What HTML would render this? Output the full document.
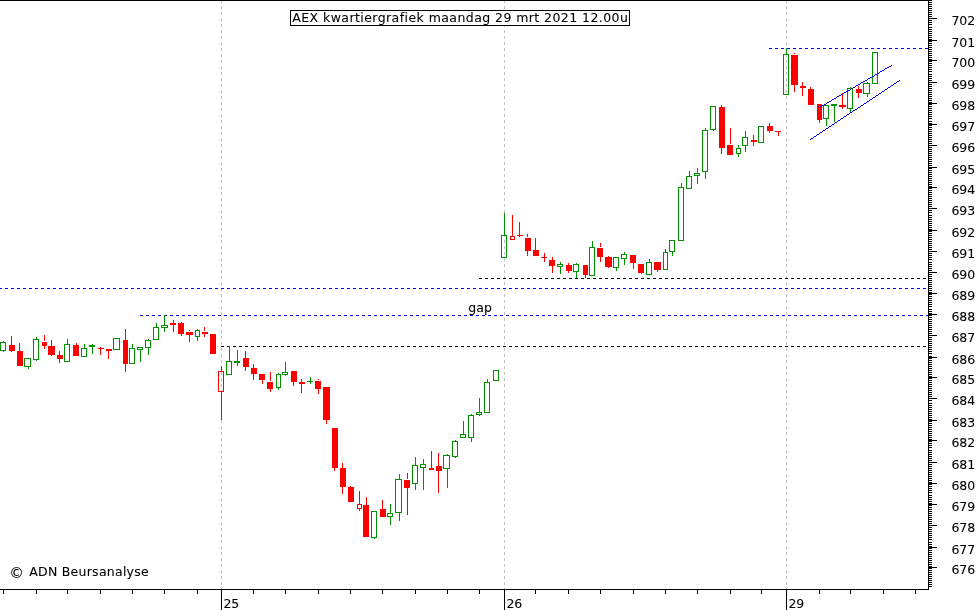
<!DOCTYPE html>
<html><head><meta charset="utf-8"><title>AEX kwartiergrafiek</title>
<style>
html,body{margin:0;padding:0;background:#fff;overflow:hidden}
svg{display:block}
.t{font-family:'DejaVu Sans','Liberation Sans',sans-serif;font-size:12.5px;fill:#000;letter-spacing:0.4px;stroke:#000;stroke-width:0.08px}
.a{letter-spacing:0}
.g{letter-spacing:0}
</style></head><body>
<svg width="979" height="610" viewBox="0 0 979 610" shape-rendering="crispEdges">
<rect x="0" y="0" width="979" height="610" fill="#fff"/>
<path d="M221.5 0V589" stroke="#c0c0c0" stroke-width="1" stroke-dasharray="3 3" fill="none"/>
<path d="M504.5 0V589" stroke="#c0c0c0" stroke-width="1" stroke-dasharray="3 3" fill="none"/>
<path d="M786.5 0V589" stroke="#c0c0c0" stroke-width="1" stroke-dasharray="3 3" fill="none"/>
<path d="M769 48.5H928" stroke="#0000ff" stroke-width="1" stroke-dasharray="3 3" stroke-dashoffset="0" fill="none"/>
<path d="M479 278.5H928" stroke="#000000" stroke-width="1" stroke-dasharray="3 3" stroke-dashoffset="0" fill="none"/>
<path d="M-1 288.5H928" stroke="#0000ff" stroke-width="1" stroke-dasharray="3 3" stroke-dashoffset="0" fill="none"/>
<path d="M140 315.5H928" stroke="#0000ff" stroke-width="1" stroke-dasharray="3 3" stroke-dashoffset="0" fill="none"/>
<path d="M221 346.5H928" stroke="#000000" stroke-width="1" stroke-dasharray="3 3" stroke-dashoffset="0" fill="none"/>
<rect x="3" y="341" width="1" height="1" fill="#009000"/>
<rect x="3" y="351" width="1" height="1" fill="#009000"/>
<rect x="0.5" y="342.5" width="5" height="8" fill="none" stroke="#009000" stroke-width="1"/>
<rect x="11" y="336" width="1" height="16" fill="#ff0000"/>
<rect x="9" y="345" width="6" height="6" fill="#ff0000"/>
<rect x="19" y="343" width="1" height="23" fill="#ff0000"/>
<rect x="17" y="351" width="6" height="15" fill="#ff0000"/>
<rect x="28" y="367" width="1" height="2" fill="#009000"/>
<rect x="24.5" y="358.5" width="6" height="8" fill="none" stroke="#009000" stroke-width="1"/>
<rect x="36" y="337" width="1" height="2" fill="#009000"/>
<rect x="36" y="360" width="1" height="1" fill="#009000"/>
<rect x="33.5" y="339.5" width="5" height="20" fill="none" stroke="#009000" stroke-width="1"/>
<rect x="44" y="335" width="1" height="6" fill="#ff0000"/>
<rect x="44" y="342" width="1" height="7" fill="#ff0000"/>
<rect x="42" y="342" width="5" height="4" fill="#ff0000"/>
<rect x="51" y="340" width="1" height="16" fill="#ff0000"/>
<rect x="48" y="346" width="7" height="9" fill="#ff0000"/>
<rect x="59" y="351" width="1" height="12" fill="#ff0000"/>
<rect x="57" y="355" width="6" height="4" fill="#ff0000"/>
<rect x="67" y="339" width="1" height="5" fill="#009000"/>
<rect x="64.5" y="344.5" width="5" height="17" fill="none" stroke="#009000" stroke-width="1"/>
<rect x="76" y="343" width="1" height="13" fill="#ff0000"/>
<rect x="73" y="345" width="6" height="11" fill="#ff0000"/>
<rect x="84" y="344" width="1" height="4" fill="#009000"/>
<rect x="81.5" y="348.5" width="5" height="8" fill="none" stroke="#009000" stroke-width="1"/>
<rect x="92" y="344" width="1" height="10" fill="#009000"/>
<rect x="89" y="345" width="6" height="2" fill="#009000"/>
<rect x="100" y="347" width="1" height="8" fill="#ff0000"/>
<rect x="98" y="348" width="6" height="1" fill="#ff0000"/>
<rect x="108" y="349" width="1" height="10" fill="#ff0000"/>
<rect x="106" y="349" width="6" height="2" fill="#ff0000"/>
<rect x="113.5" y="338.5" width="6" height="11" fill="none" stroke="#009000" stroke-width="1"/>
<rect x="125" y="329" width="1" height="43" fill="#ff0000"/>
<rect x="123" y="340" width="5" height="24" fill="#ff0000"/>
<rect x="132" y="344" width="1" height="4" fill="#009000"/>
<rect x="129.5" y="348.5" width="5" height="15" fill="none" stroke="#009000" stroke-width="1"/>
<rect x="140" y="350" width="1" height="12" fill="#009000"/>
<rect x="137.5" y="347.5" width="5" height="2" fill="none" stroke="#009000" stroke-width="1"/>
<rect x="148" y="339" width="1" height="1" fill="#009000"/>
<rect x="148" y="348" width="1" height="7" fill="#009000"/>
<rect x="145.5" y="340.5" width="5" height="7" fill="none" stroke="#009000" stroke-width="1"/>
<rect x="156" y="323" width="1" height="4" fill="#009000"/>
<rect x="153.5" y="327.5" width="5" height="12" fill="none" stroke="#009000" stroke-width="1"/>
<rect x="164" y="315" width="1" height="10" fill="#009000"/>
<rect x="164" y="328" width="1" height="4" fill="#009000"/>
<rect x="161.5" y="325.5" width="6" height="2" fill="none" stroke="#009000" stroke-width="1"/>
<rect x="173" y="320" width="1" height="12" fill="#ff0000"/>
<rect x="170" y="323" width="6" height="2" fill="#ff0000"/>
<rect x="181" y="322" width="1" height="14" fill="#ff0000"/>
<rect x="178" y="323" width="6" height="11" fill="#ff0000"/>
<rect x="189" y="330" width="1" height="1" fill="#ff0000"/>
<rect x="189" y="332" width="1" height="10" fill="#ff0000"/>
<rect x="186" y="332" width="7" height="3" fill="#ff0000"/>
<rect x="197" y="329" width="1" height="1" fill="#009000"/>
<rect x="197" y="337" width="1" height="4" fill="#009000"/>
<rect x="195.5" y="330.5" width="4" height="6" fill="none" stroke="#009000" stroke-width="1"/>
<rect x="204" y="327" width="1" height="4" fill="#ff0000"/>
<rect x="204" y="332" width="1" height="5" fill="#ff0000"/>
<rect x="202" y="332" width="6" height="2" fill="#ff0000"/>
<rect x="213" y="334" width="1" height="20" fill="#ff0000"/>
<rect x="210" y="334" width="6" height="20" fill="#ff0000"/>
<rect x="221" y="366" width="1" height="5" fill="#ff0000"/>
<rect x="221" y="392" width="1" height="28" fill="#ff0000"/>
<rect x="218.5" y="371.5" width="5" height="20" fill="none" stroke="#ff0000" stroke-width="1"/>
<rect x="229" y="346" width="1" height="15" fill="#009000"/>
<rect x="226.5" y="361.5" width="5" height="13" fill="none" stroke="#009000" stroke-width="1"/>
<rect x="237" y="350" width="1" height="16" fill="#009000"/>
<rect x="234" y="361" width="6" height="2" fill="#009000"/>
<rect x="245" y="351" width="1" height="20" fill="#ff0000"/>
<rect x="243" y="358" width="6" height="9" fill="#ff0000"/>
<rect x="253" y="364" width="1" height="16" fill="#ff0000"/>
<rect x="251" y="368" width="6" height="6" fill="#ff0000"/>
<rect x="262" y="374" width="1" height="10" fill="#ff0000"/>
<rect x="259" y="374" width="6" height="6" fill="#ff0000"/>
<rect x="270" y="372" width="1" height="9" fill="#ff0000"/>
<rect x="270" y="382" width="1" height="10" fill="#ff0000"/>
<rect x="267" y="382" width="6" height="7" fill="#ff0000"/>
<rect x="278" y="373" width="1" height="1" fill="#009000"/>
<rect x="278" y="388" width="1" height="2" fill="#009000"/>
<rect x="276.5" y="374.5" width="4" height="13" fill="none" stroke="#009000" stroke-width="1"/>
<rect x="285" y="362" width="1" height="10" fill="#009000"/>
<rect x="285" y="375" width="1" height="1" fill="#009000"/>
<rect x="282.5" y="372.5" width="5" height="2" fill="none" stroke="#009000" stroke-width="1"/>
<rect x="293" y="371" width="1" height="15" fill="#ff0000"/>
<rect x="291" y="371" width="6" height="11" fill="#ff0000"/>
<rect x="301" y="379" width="1" height="14" fill="#ff0000"/>
<rect x="299" y="382" width="6" height="2" fill="#ff0000"/>
<rect x="310" y="377" width="1" height="7" fill="#009000"/>
<rect x="307" y="381" width="6" height="1" fill="#009000"/>
<rect x="318" y="379" width="1" height="1" fill="#ff0000"/>
<rect x="318" y="381" width="1" height="13" fill="#ff0000"/>
<rect x="315" y="381" width="6" height="8" fill="#ff0000"/>
<rect x="326" y="387" width="1" height="37" fill="#ff0000"/>
<rect x="323" y="387" width="7" height="33" fill="#ff0000"/>
<rect x="334" y="428" width="1" height="43" fill="#ff0000"/>
<rect x="332" y="428" width="6" height="40" fill="#ff0000"/>
<rect x="342" y="463" width="1" height="31" fill="#ff0000"/>
<rect x="340" y="468" width="6" height="19" fill="#ff0000"/>
<rect x="350" y="486" width="1" height="16" fill="#ff0000"/>
<rect x="348" y="487" width="6" height="15" fill="#ff0000"/>
<rect x="359" y="491" width="1" height="13" fill="#ff0000"/>
<rect x="359" y="509" width="1" height="2" fill="#ff0000"/>
<rect x="357.5" y="504.5" width="4" height="4" fill="none" stroke="#ff0000" stroke-width="1"/>
<rect x="366" y="497" width="1" height="40" fill="#ff0000"/>
<rect x="363" y="505" width="6" height="32" fill="#ff0000"/>
<rect x="374" y="538" width="1" height="1" fill="#009000"/>
<rect x="371.5" y="511.5" width="5" height="26" fill="none" stroke="#009000" stroke-width="1"/>
<rect x="382" y="500" width="1" height="17" fill="#ff0000"/>
<rect x="380" y="509" width="6" height="8" fill="#ff0000"/>
<rect x="390" y="504" width="1" height="9" fill="#009000"/>
<rect x="390" y="517" width="1" height="8" fill="#009000"/>
<rect x="387.5" y="513.5" width="5" height="3" fill="none" stroke="#009000" stroke-width="1"/>
<rect x="399" y="474" width="1" height="5" fill="#009000"/>
<rect x="399" y="513" width="1" height="8" fill="#009000"/>
<rect x="395.5" y="479.5" width="6" height="33" fill="none" stroke="#009000" stroke-width="1"/>
<rect x="407" y="473" width="1" height="6" fill="#ff0000"/>
<rect x="407" y="480" width="1" height="35" fill="#ff0000"/>
<rect x="404" y="480" width="6" height="8" fill="#ff0000"/>
<rect x="415" y="457" width="1" height="8" fill="#009000"/>
<rect x="415" y="484" width="1" height="6" fill="#009000"/>
<rect x="412.5" y="465.5" width="5" height="18" fill="none" stroke="#009000" stroke-width="1"/>
<rect x="423" y="459" width="1" height="5" fill="#009000"/>
<rect x="423" y="468" width="1" height="22" fill="#009000"/>
<rect x="420.5" y="464.5" width="5" height="3" fill="none" stroke="#009000" stroke-width="1"/>
<rect x="431" y="451" width="1" height="19" fill="#ff0000"/>
<rect x="429" y="468" width="5" height="2" fill="#ff0000"/>
<rect x="438" y="453" width="1" height="40" fill="#ff0000"/>
<rect x="436" y="466" width="6" height="5" fill="#ff0000"/>
<rect x="447" y="454" width="1" height="1" fill="#009000"/>
<rect x="447" y="469" width="1" height="19" fill="#009000"/>
<rect x="443.5" y="455.5" width="6" height="13" fill="none" stroke="#009000" stroke-width="1"/>
<rect x="455" y="440" width="1" height="1" fill="#009000"/>
<rect x="455" y="457" width="1" height="1" fill="#009000"/>
<rect x="452.5" y="441.5" width="5" height="15" fill="none" stroke="#009000" stroke-width="1"/>
<rect x="463" y="421" width="1" height="13" fill="#009000"/>
<rect x="460.5" y="434.5" width="5" height="3" fill="none" stroke="#009000" stroke-width="1"/>
<rect x="471" y="414" width="1" height="1" fill="#009000"/>
<rect x="471" y="438" width="1" height="4" fill="#009000"/>
<rect x="468.5" y="415.5" width="5" height="22" fill="none" stroke="#009000" stroke-width="1"/>
<rect x="479" y="398" width="1" height="14" fill="#009000"/>
<rect x="479" y="415" width="1" height="1" fill="#009000"/>
<rect x="476.5" y="412.5" width="5" height="2" fill="none" stroke="#009000" stroke-width="1"/>
<rect x="487" y="379" width="1" height="3" fill="#009000"/>
<rect x="484.5" y="382.5" width="5" height="30" fill="none" stroke="#009000" stroke-width="1"/>
<rect x="493.5" y="370.5" width="5" height="10" fill="none" stroke="#009000" stroke-width="1"/>
<rect x="504" y="213" width="1" height="22" fill="#009000"/>
<rect x="501.5" y="235.5" width="5" height="22" fill="none" stroke="#009000" stroke-width="1"/>
<rect x="512" y="215" width="1" height="21" fill="#ff0000"/>
<rect x="510.5" y="236.5" width="4" height="3" fill="none" stroke="#ff0000" stroke-width="1"/>
<rect x="519" y="222" width="1" height="15" fill="#ff0000"/>
<rect x="517" y="235" width="6" height="1" fill="#ff0000"/>
<rect x="527" y="234" width="1" height="3" fill="#ff0000"/>
<rect x="527" y="238" width="1" height="18" fill="#ff0000"/>
<rect x="525" y="238" width="6" height="13" fill="#ff0000"/>
<rect x="535" y="238" width="1" height="18" fill="#ff0000"/>
<rect x="533" y="250" width="6" height="6" fill="#ff0000"/>
<rect x="544" y="253" width="1" height="9" fill="#ff0000"/>
<rect x="541" y="257" width="6" height="1" fill="#ff0000"/>
<rect x="552" y="257" width="1" height="16" fill="#ff0000"/>
<rect x="549" y="260" width="6" height="6" fill="#ff0000"/>
<rect x="560" y="262" width="1" height="2" fill="#009000"/>
<rect x="560" y="267" width="1" height="7" fill="#009000"/>
<rect x="557.5" y="264.5" width="5" height="2" fill="none" stroke="#009000" stroke-width="1"/>
<rect x="568" y="263" width="1" height="10" fill="#ff0000"/>
<rect x="566" y="265" width="6" height="6" fill="#ff0000"/>
<rect x="576" y="263" width="1" height="1" fill="#009000"/>
<rect x="576" y="272" width="1" height="6" fill="#009000"/>
<rect x="573.5" y="264.5" width="5" height="7" fill="none" stroke="#009000" stroke-width="1"/>
<rect x="585" y="265" width="1" height="13" fill="#ff0000"/>
<rect x="583" y="265" width="5" height="10" fill="#ff0000"/>
<rect x="592" y="241" width="1" height="6" fill="#009000"/>
<rect x="589.5" y="247.5" width="5" height="28" fill="none" stroke="#009000" stroke-width="1"/>
<rect x="600" y="243" width="1" height="4" fill="#ff0000"/>
<rect x="600" y="248" width="1" height="14" fill="#ff0000"/>
<rect x="597" y="248" width="6" height="9" fill="#ff0000"/>
<rect x="608" y="256" width="1" height="12" fill="#ff0000"/>
<rect x="605" y="257" width="7" height="10" fill="#ff0000"/>
<rect x="616" y="268" width="1" height="3" fill="#009000"/>
<rect x="613.5" y="257.5" width="5" height="10" fill="none" stroke="#009000" stroke-width="1"/>
<rect x="624" y="252" width="1" height="2" fill="#009000"/>
<rect x="624" y="259" width="1" height="6" fill="#009000"/>
<rect x="621.5" y="254.5" width="5" height="4" fill="none" stroke="#009000" stroke-width="1"/>
<rect x="633" y="255" width="1" height="14" fill="#ff0000"/>
<rect x="630" y="255" width="6" height="8" fill="#ff0000"/>
<rect x="641" y="264" width="1" height="10" fill="#ff0000"/>
<rect x="638" y="264" width="6" height="9" fill="#ff0000"/>
<rect x="649" y="259" width="1" height="3" fill="#009000"/>
<rect x="646.5" y="262.5" width="5" height="12" fill="none" stroke="#009000" stroke-width="1"/>
<rect x="657" y="262" width="1" height="10" fill="#ff0000"/>
<rect x="654" y="262" width="7" height="8" fill="#ff0000"/>
<rect x="665" y="249" width="1" height="3" fill="#009000"/>
<rect x="663.5" y="252.5" width="4" height="17" fill="none" stroke="#009000" stroke-width="1"/>
<rect x="672" y="252" width="1" height="4" fill="#009000"/>
<rect x="669.5" y="240.5" width="5" height="11" fill="none" stroke="#009000" stroke-width="1"/>
<rect x="681" y="183" width="1" height="4" fill="#009000"/>
<rect x="678.5" y="187.5" width="5" height="53" fill="none" stroke="#009000" stroke-width="1"/>
<rect x="689" y="171" width="1" height="5" fill="#009000"/>
<rect x="686.5" y="176.5" width="5" height="12" fill="none" stroke="#009000" stroke-width="1"/>
<rect x="697" y="168" width="1" height="5" fill="#009000"/>
<rect x="697" y="176" width="1" height="8" fill="#009000"/>
<rect x="694.5" y="173.5" width="5" height="2" fill="none" stroke="#009000" stroke-width="1"/>
<rect x="705" y="128" width="1" height="2" fill="#009000"/>
<rect x="705" y="172" width="1" height="7" fill="#009000"/>
<rect x="702.5" y="130.5" width="5" height="41" fill="none" stroke="#009000" stroke-width="1"/>
<rect x="713" y="130" width="1" height="1" fill="#009000"/>
<rect x="710.5" y="106.5" width="5" height="23" fill="none" stroke="#009000" stroke-width="1"/>
<rect x="721" y="105" width="1" height="49" fill="#ff0000"/>
<rect x="719" y="107" width="6" height="41" fill="#ff0000"/>
<rect x="730" y="128" width="1" height="16" fill="#ff0000"/>
<rect x="730" y="145" width="1" height="10" fill="#ff0000"/>
<rect x="727" y="145" width="6" height="10" fill="#ff0000"/>
<rect x="738" y="145" width="1" height="3" fill="#009000"/>
<rect x="738" y="154" width="1" height="3" fill="#009000"/>
<rect x="736.5" y="148.5" width="4" height="5" fill="none" stroke="#009000" stroke-width="1"/>
<rect x="745" y="131" width="1" height="6" fill="#009000"/>
<rect x="745" y="146" width="1" height="6" fill="#009000"/>
<rect x="742.5" y="137.5" width="5" height="8" fill="none" stroke="#009000" stroke-width="1"/>
<rect x="753" y="135" width="1" height="11" fill="#ff0000"/>
<rect x="751" y="140" width="6" height="2" fill="#ff0000"/>
<rect x="758.5" y="126.5" width="5" height="16" fill="none" stroke="#009000" stroke-width="1"/>
<rect x="769" y="123" width="1" height="10" fill="#ff0000"/>
<rect x="767" y="126" width="6" height="5" fill="#ff0000"/>
<rect x="778" y="131" width="1" height="5" fill="#ff0000"/>
<rect x="775" y="131" width="6" height="1" fill="#ff0000"/>
<rect x="786" y="48" width="1" height="6" fill="#009000"/>
<rect x="783.5" y="54.5" width="5" height="40" fill="none" stroke="#009000" stroke-width="1"/>
<rect x="794" y="53" width="1" height="1" fill="#ff0000"/>
<rect x="794" y="55" width="1" height="37" fill="#ff0000"/>
<rect x="791" y="55" width="7" height="30" fill="#ff0000"/>
<rect x="802" y="82" width="1" height="14" fill="#ff0000"/>
<rect x="800" y="86" width="6" height="2" fill="#ff0000"/>
<rect x="810" y="87" width="1" height="18" fill="#ff0000"/>
<rect x="808" y="89" width="6" height="16" fill="#ff0000"/>
<rect x="819" y="104" width="1" height="19" fill="#ff0000"/>
<rect x="817" y="104" width="5" height="16" fill="#ff0000"/>
<rect x="826" y="119" width="1" height="7" fill="#009000"/>
<rect x="823.5" y="105.5" width="5" height="13" fill="none" stroke="#009000" stroke-width="1"/>
<rect x="834" y="104" width="1" height="18" fill="#009000"/>
<rect x="831" y="104" width="6" height="2" fill="#009000"/>
<rect x="842" y="93" width="1" height="16" fill="#ff0000"/>
<rect x="839" y="105" width="7" height="2" fill="#ff0000"/>
<rect x="850" y="87" width="1" height="1" fill="#009000"/>
<rect x="850" y="109" width="1" height="3" fill="#009000"/>
<rect x="847.5" y="88.5" width="5" height="20" fill="none" stroke="#009000" stroke-width="1"/>
<rect x="858" y="86" width="1" height="12" fill="#ff0000"/>
<rect x="856" y="89" width="6" height="4" fill="#ff0000"/>
<rect x="867" y="82" width="1" height="1" fill="#009000"/>
<rect x="867" y="94" width="1" height="3" fill="#009000"/>
<rect x="863.5" y="83.5" width="6" height="10" fill="none" stroke="#009000" stroke-width="1"/>
<rect x="872.5" y="52.5" width="5" height="31" fill="none" stroke="#009000" stroke-width="1"/>
<rect x="819" y="107" width="1" height="1" fill="#0000ff"/>
<rect x="820" y="106" width="2" height="1" fill="#0000ff"/>
<rect x="822" y="105" width="2" height="1" fill="#0000ff"/>
<rect x="824" y="104" width="2" height="1" fill="#0000ff"/>
<rect x="826" y="103" width="1" height="1" fill="#0000ff"/>
<rect x="827" y="102" width="2" height="1" fill="#0000ff"/>
<rect x="829" y="101" width="2" height="1" fill="#0000ff"/>
<rect x="831" y="100" width="1" height="1" fill="#0000ff"/>
<rect x="832" y="99" width="2" height="1" fill="#0000ff"/>
<rect x="834" y="98" width="2" height="1" fill="#0000ff"/>
<rect x="836" y="97" width="1" height="1" fill="#0000ff"/>
<rect x="837" y="96" width="2" height="1" fill="#0000ff"/>
<rect x="839" y="95" width="2" height="1" fill="#0000ff"/>
<rect x="841" y="94" width="2" height="1" fill="#0000ff"/>
<rect x="843" y="93" width="1" height="1" fill="#0000ff"/>
<rect x="844" y="92" width="2" height="1" fill="#0000ff"/>
<rect x="846" y="91" width="2" height="1" fill="#0000ff"/>
<rect x="848" y="90" width="2" height="1" fill="#0000ff"/>
<rect x="850" y="89" width="1" height="1" fill="#0000ff"/>
<rect x="851" y="88" width="2" height="1" fill="#0000ff"/>
<rect x="853" y="87" width="2" height="1" fill="#0000ff"/>
<rect x="855" y="86" width="1" height="1" fill="#0000ff"/>
<rect x="856" y="85" width="2" height="1" fill="#0000ff"/>
<rect x="858" y="84" width="2" height="1" fill="#0000ff"/>
<rect x="860" y="83" width="1" height="1" fill="#0000ff"/>
<rect x="861" y="82" width="2" height="1" fill="#0000ff"/>
<rect x="863" y="81" width="2" height="1" fill="#0000ff"/>
<rect x="865" y="80" width="2" height="1" fill="#0000ff"/>
<rect x="867" y="79" width="1" height="1" fill="#0000ff"/>
<rect x="868" y="78" width="2" height="1" fill="#0000ff"/>
<rect x="870" y="77" width="2" height="1" fill="#0000ff"/>
<rect x="872" y="76" width="2" height="1" fill="#0000ff"/>
<rect x="874" y="75" width="1" height="1" fill="#0000ff"/>
<rect x="875" y="74" width="2" height="1" fill="#0000ff"/>
<rect x="877" y="73" width="2" height="1" fill="#0000ff"/>
<rect x="879" y="72" width="1" height="1" fill="#0000ff"/>
<rect x="880" y="71" width="2" height="1" fill="#0000ff"/>
<rect x="882" y="70" width="2" height="1" fill="#0000ff"/>
<rect x="884" y="69" width="1" height="1" fill="#0000ff"/>
<rect x="885" y="68" width="2" height="1" fill="#0000ff"/>
<rect x="887" y="67" width="2" height="1" fill="#0000ff"/>
<rect x="889" y="66" width="2" height="1" fill="#0000ff"/>
<rect x="891" y="65" width="1" height="1" fill="#0000ff"/>
<rect x="810" y="139" width="1" height="1" fill="#0000ff"/>
<rect x="811" y="138" width="2" height="1" fill="#0000ff"/>
<rect x="813" y="137" width="1" height="1" fill="#0000ff"/>
<rect x="814" y="136" width="2" height="1" fill="#0000ff"/>
<rect x="816" y="135" width="1" height="1" fill="#0000ff"/>
<rect x="817" y="134" width="2" height="1" fill="#0000ff"/>
<rect x="819" y="133" width="1" height="1" fill="#0000ff"/>
<rect x="820" y="132" width="2" height="1" fill="#0000ff"/>
<rect x="822" y="131" width="1" height="1" fill="#0000ff"/>
<rect x="823" y="130" width="2" height="1" fill="#0000ff"/>
<rect x="825" y="129" width="1" height="1" fill="#0000ff"/>
<rect x="826" y="128" width="2" height="1" fill="#0000ff"/>
<rect x="828" y="127" width="1" height="1" fill="#0000ff"/>
<rect x="829" y="126" width="2" height="1" fill="#0000ff"/>
<rect x="831" y="125" width="1" height="1" fill="#0000ff"/>
<rect x="832" y="124" width="2" height="1" fill="#0000ff"/>
<rect x="834" y="123" width="1" height="1" fill="#0000ff"/>
<rect x="835" y="122" width="2" height="1" fill="#0000ff"/>
<rect x="837" y="121" width="1" height="1" fill="#0000ff"/>
<rect x="838" y="120" width="2" height="1" fill="#0000ff"/>
<rect x="840" y="119" width="1" height="1" fill="#0000ff"/>
<rect x="841" y="118" width="2" height="1" fill="#0000ff"/>
<rect x="843" y="117" width="1" height="1" fill="#0000ff"/>
<rect x="844" y="116" width="2" height="1" fill="#0000ff"/>
<rect x="846" y="115" width="1" height="1" fill="#0000ff"/>
<rect x="847" y="114" width="2" height="1" fill="#0000ff"/>
<rect x="849" y="113" width="1" height="1" fill="#0000ff"/>
<rect x="850" y="112" width="2" height="1" fill="#0000ff"/>
<rect x="852" y="111" width="1" height="1" fill="#0000ff"/>
<rect x="853" y="110" width="2" height="1" fill="#0000ff"/>
<rect x="855" y="109" width="2" height="1" fill="#0000ff"/>
<rect x="857" y="108" width="1" height="1" fill="#0000ff"/>
<rect x="858" y="107" width="2" height="1" fill="#0000ff"/>
<rect x="860" y="106" width="1" height="1" fill="#0000ff"/>
<rect x="861" y="105" width="2" height="1" fill="#0000ff"/>
<rect x="863" y="104" width="1" height="1" fill="#0000ff"/>
<rect x="864" y="103" width="2" height="1" fill="#0000ff"/>
<rect x="866" y="102" width="1" height="1" fill="#0000ff"/>
<rect x="867" y="101" width="2" height="1" fill="#0000ff"/>
<rect x="869" y="100" width="1" height="1" fill="#0000ff"/>
<rect x="870" y="99" width="2" height="1" fill="#0000ff"/>
<rect x="872" y="98" width="1" height="1" fill="#0000ff"/>
<rect x="873" y="97" width="2" height="1" fill="#0000ff"/>
<rect x="875" y="96" width="1" height="1" fill="#0000ff"/>
<rect x="876" y="95" width="2" height="1" fill="#0000ff"/>
<rect x="878" y="94" width="1" height="1" fill="#0000ff"/>
<rect x="879" y="93" width="2" height="1" fill="#0000ff"/>
<rect x="881" y="92" width="1" height="1" fill="#0000ff"/>
<rect x="882" y="91" width="2" height="1" fill="#0000ff"/>
<rect x="884" y="90" width="1" height="1" fill="#0000ff"/>
<rect x="885" y="89" width="2" height="1" fill="#0000ff"/>
<rect x="887" y="88" width="1" height="1" fill="#0000ff"/>
<rect x="888" y="87" width="2" height="1" fill="#0000ff"/>
<rect x="890" y="86" width="1" height="1" fill="#0000ff"/>
<rect x="891" y="85" width="2" height="1" fill="#0000ff"/>
<rect x="893" y="84" width="1" height="1" fill="#0000ff"/>
<rect x="894" y="83" width="2" height="1" fill="#0000ff"/>
<rect x="896" y="82" width="1" height="1" fill="#0000ff"/>
<rect x="897" y="81" width="2" height="1" fill="#0000ff"/>
<rect x="899" y="80" width="1" height="1" fill="#0000ff"/>
<rect x="0" y="0" width="929" height="1" fill="#000"/>
<rect x="928" y="0" width="1" height="590" fill="#000"/>
<rect x="0" y="589" width="929" height="1" fill="#000"/>
<rect x="929" y="0" width="3" height="1" fill="#000"/>
<rect x="929" y="2" width="3" height="1" fill="#000"/>
<rect x="929" y="4" width="3" height="1" fill="#000"/>
<rect x="929" y="6" width="3" height="1" fill="#000"/>
<rect x="929" y="8" width="3" height="1" fill="#000"/>
<rect x="929" y="10" width="3" height="1" fill="#000"/>
<rect x="929" y="12" width="3" height="1" fill="#000"/>
<rect x="929" y="14" width="3" height="1" fill="#000"/>
<rect x="929" y="16" width="3" height="1" fill="#000"/>
<rect x="929" y="18" width="3" height="1" fill="#000"/>
<rect x="929" y="20" width="3" height="1" fill="#000"/>
<rect x="929" y="22" width="3" height="1" fill="#000"/>
<rect x="929" y="24" width="3" height="1" fill="#000"/>
<rect x="929" y="27" width="3" height="1" fill="#000"/>
<rect x="929" y="29" width="3" height="1" fill="#000"/>
<rect x="929" y="31" width="3" height="1" fill="#000"/>
<rect x="929" y="33" width="3" height="1" fill="#000"/>
<rect x="929" y="35" width="3" height="1" fill="#000"/>
<rect x="929" y="37" width="3" height="1" fill="#000"/>
<rect x="929" y="39" width="3" height="1" fill="#000"/>
<rect x="929" y="41" width="3" height="1" fill="#000"/>
<rect x="929" y="43" width="3" height="1" fill="#000"/>
<rect x="929" y="45" width="3" height="1" fill="#000"/>
<rect x="929" y="47" width="3" height="1" fill="#000"/>
<rect x="929" y="49" width="3" height="1" fill="#000"/>
<rect x="929" y="51" width="3" height="1" fill="#000"/>
<rect x="929" y="53" width="3" height="1" fill="#000"/>
<rect x="929" y="55" width="3" height="1" fill="#000"/>
<rect x="929" y="57" width="3" height="1" fill="#000"/>
<rect x="929" y="59" width="3" height="1" fill="#000"/>
<rect x="929" y="61" width="3" height="1" fill="#000"/>
<rect x="929" y="63" width="3" height="1" fill="#000"/>
<rect x="929" y="65" width="3" height="1" fill="#000"/>
<rect x="929" y="67" width="3" height="1" fill="#000"/>
<rect x="929" y="69" width="3" height="1" fill="#000"/>
<rect x="929" y="71" width="3" height="1" fill="#000"/>
<rect x="929" y="74" width="3" height="1" fill="#000"/>
<rect x="929" y="76" width="3" height="1" fill="#000"/>
<rect x="929" y="78" width="3" height="1" fill="#000"/>
<rect x="929" y="80" width="3" height="1" fill="#000"/>
<rect x="929" y="82" width="3" height="1" fill="#000"/>
<rect x="929" y="84" width="3" height="1" fill="#000"/>
<rect x="929" y="86" width="3" height="1" fill="#000"/>
<rect x="929" y="88" width="3" height="1" fill="#000"/>
<rect x="929" y="90" width="3" height="1" fill="#000"/>
<rect x="929" y="92" width="3" height="1" fill="#000"/>
<rect x="929" y="94" width="3" height="1" fill="#000"/>
<rect x="929" y="96" width="3" height="1" fill="#000"/>
<rect x="929" y="98" width="3" height="1" fill="#000"/>
<rect x="929" y="100" width="3" height="1" fill="#000"/>
<rect x="929" y="102" width="3" height="1" fill="#000"/>
<rect x="929" y="104" width="3" height="1" fill="#000"/>
<rect x="929" y="106" width="3" height="1" fill="#000"/>
<rect x="929" y="108" width="3" height="1" fill="#000"/>
<rect x="929" y="110" width="3" height="1" fill="#000"/>
<rect x="929" y="112" width="3" height="1" fill="#000"/>
<rect x="929" y="114" width="3" height="1" fill="#000"/>
<rect x="929" y="116" width="3" height="1" fill="#000"/>
<rect x="929" y="118" width="3" height="1" fill="#000"/>
<rect x="929" y="121" width="3" height="1" fill="#000"/>
<rect x="929" y="123" width="3" height="1" fill="#000"/>
<rect x="929" y="125" width="3" height="1" fill="#000"/>
<rect x="929" y="127" width="3" height="1" fill="#000"/>
<rect x="929" y="129" width="3" height="1" fill="#000"/>
<rect x="929" y="131" width="3" height="1" fill="#000"/>
<rect x="929" y="133" width="3" height="1" fill="#000"/>
<rect x="929" y="135" width="3" height="1" fill="#000"/>
<rect x="929" y="137" width="3" height="1" fill="#000"/>
<rect x="929" y="139" width="3" height="1" fill="#000"/>
<rect x="929" y="141" width="3" height="1" fill="#000"/>
<rect x="929" y="143" width="3" height="1" fill="#000"/>
<rect x="929" y="145" width="3" height="1" fill="#000"/>
<rect x="929" y="147" width="3" height="1" fill="#000"/>
<rect x="929" y="149" width="3" height="1" fill="#000"/>
<rect x="929" y="151" width="3" height="1" fill="#000"/>
<rect x="929" y="153" width="3" height="1" fill="#000"/>
<rect x="929" y="155" width="3" height="1" fill="#000"/>
<rect x="929" y="157" width="3" height="1" fill="#000"/>
<rect x="929" y="159" width="3" height="1" fill="#000"/>
<rect x="929" y="161" width="3" height="1" fill="#000"/>
<rect x="929" y="163" width="3" height="1" fill="#000"/>
<rect x="929" y="165" width="3" height="1" fill="#000"/>
<rect x="929" y="168" width="3" height="1" fill="#000"/>
<rect x="929" y="170" width="3" height="1" fill="#000"/>
<rect x="929" y="172" width="3" height="1" fill="#000"/>
<rect x="929" y="174" width="3" height="1" fill="#000"/>
<rect x="929" y="176" width="3" height="1" fill="#000"/>
<rect x="929" y="178" width="3" height="1" fill="#000"/>
<rect x="929" y="180" width="3" height="1" fill="#000"/>
<rect x="929" y="182" width="3" height="1" fill="#000"/>
<rect x="929" y="184" width="3" height="1" fill="#000"/>
<rect x="929" y="186" width="3" height="1" fill="#000"/>
<rect x="929" y="188" width="3" height="1" fill="#000"/>
<rect x="929" y="190" width="3" height="1" fill="#000"/>
<rect x="929" y="192" width="3" height="1" fill="#000"/>
<rect x="929" y="194" width="3" height="1" fill="#000"/>
<rect x="929" y="196" width="3" height="1" fill="#000"/>
<rect x="929" y="198" width="3" height="1" fill="#000"/>
<rect x="929" y="200" width="3" height="1" fill="#000"/>
<rect x="929" y="202" width="3" height="1" fill="#000"/>
<rect x="929" y="204" width="3" height="1" fill="#000"/>
<rect x="929" y="206" width="3" height="1" fill="#000"/>
<rect x="929" y="208" width="3" height="1" fill="#000"/>
<rect x="929" y="210" width="3" height="1" fill="#000"/>
<rect x="929" y="212" width="3" height="1" fill="#000"/>
<rect x="929" y="215" width="3" height="1" fill="#000"/>
<rect x="929" y="217" width="3" height="1" fill="#000"/>
<rect x="929" y="219" width="3" height="1" fill="#000"/>
<rect x="929" y="221" width="3" height="1" fill="#000"/>
<rect x="929" y="223" width="3" height="1" fill="#000"/>
<rect x="929" y="225" width="3" height="1" fill="#000"/>
<rect x="929" y="227" width="3" height="1" fill="#000"/>
<rect x="929" y="229" width="3" height="1" fill="#000"/>
<rect x="929" y="231" width="3" height="1" fill="#000"/>
<rect x="929" y="233" width="3" height="1" fill="#000"/>
<rect x="929" y="235" width="3" height="1" fill="#000"/>
<rect x="929" y="237" width="3" height="1" fill="#000"/>
<rect x="929" y="239" width="3" height="1" fill="#000"/>
<rect x="929" y="241" width="3" height="1" fill="#000"/>
<rect x="929" y="243" width="3" height="1" fill="#000"/>
<rect x="929" y="245" width="3" height="1" fill="#000"/>
<rect x="929" y="247" width="3" height="1" fill="#000"/>
<rect x="929" y="249" width="3" height="1" fill="#000"/>
<rect x="929" y="251" width="3" height="1" fill="#000"/>
<rect x="929" y="253" width="3" height="1" fill="#000"/>
<rect x="929" y="255" width="3" height="1" fill="#000"/>
<rect x="929" y="257" width="3" height="1" fill="#000"/>
<rect x="929" y="259" width="3" height="1" fill="#000"/>
<rect x="929" y="262" width="3" height="1" fill="#000"/>
<rect x="929" y="264" width="3" height="1" fill="#000"/>
<rect x="929" y="266" width="3" height="1" fill="#000"/>
<rect x="929" y="268" width="3" height="1" fill="#000"/>
<rect x="929" y="270" width="3" height="1" fill="#000"/>
<rect x="929" y="272" width="3" height="1" fill="#000"/>
<rect x="929" y="274" width="3" height="1" fill="#000"/>
<rect x="929" y="276" width="3" height="1" fill="#000"/>
<rect x="929" y="278" width="3" height="1" fill="#000"/>
<rect x="929" y="280" width="3" height="1" fill="#000"/>
<rect x="929" y="282" width="3" height="1" fill="#000"/>
<rect x="929" y="284" width="3" height="1" fill="#000"/>
<rect x="929" y="286" width="3" height="1" fill="#000"/>
<rect x="929" y="288" width="3" height="1" fill="#000"/>
<rect x="929" y="290" width="3" height="1" fill="#000"/>
<rect x="929" y="292" width="3" height="1" fill="#000"/>
<rect x="929" y="294" width="3" height="1" fill="#000"/>
<rect x="929" y="296" width="3" height="1" fill="#000"/>
<rect x="929" y="298" width="3" height="1" fill="#000"/>
<rect x="929" y="300" width="3" height="1" fill="#000"/>
<rect x="929" y="302" width="3" height="1" fill="#000"/>
<rect x="929" y="304" width="3" height="1" fill="#000"/>
<rect x="929" y="306" width="3" height="1" fill="#000"/>
<rect x="929" y="309" width="3" height="1" fill="#000"/>
<rect x="929" y="311" width="3" height="1" fill="#000"/>
<rect x="929" y="313" width="3" height="1" fill="#000"/>
<rect x="929" y="315" width="3" height="1" fill="#000"/>
<rect x="929" y="317" width="3" height="1" fill="#000"/>
<rect x="929" y="319" width="3" height="1" fill="#000"/>
<rect x="929" y="321" width="3" height="1" fill="#000"/>
<rect x="929" y="323" width="3" height="1" fill="#000"/>
<rect x="929" y="325" width="3" height="1" fill="#000"/>
<rect x="929" y="327" width="3" height="1" fill="#000"/>
<rect x="929" y="329" width="3" height="1" fill="#000"/>
<rect x="929" y="331" width="3" height="1" fill="#000"/>
<rect x="929" y="333" width="3" height="1" fill="#000"/>
<rect x="929" y="335" width="3" height="1" fill="#000"/>
<rect x="929" y="337" width="3" height="1" fill="#000"/>
<rect x="929" y="339" width="3" height="1" fill="#000"/>
<rect x="929" y="341" width="3" height="1" fill="#000"/>
<rect x="929" y="343" width="3" height="1" fill="#000"/>
<rect x="929" y="345" width="3" height="1" fill="#000"/>
<rect x="929" y="347" width="3" height="1" fill="#000"/>
<rect x="929" y="349" width="3" height="1" fill="#000"/>
<rect x="929" y="351" width="3" height="1" fill="#000"/>
<rect x="929" y="353" width="3" height="1" fill="#000"/>
<rect x="929" y="356" width="3" height="1" fill="#000"/>
<rect x="929" y="358" width="3" height="1" fill="#000"/>
<rect x="929" y="360" width="3" height="1" fill="#000"/>
<rect x="929" y="362" width="3" height="1" fill="#000"/>
<rect x="929" y="364" width="3" height="1" fill="#000"/>
<rect x="929" y="366" width="3" height="1" fill="#000"/>
<rect x="929" y="368" width="3" height="1" fill="#000"/>
<rect x="929" y="370" width="3" height="1" fill="#000"/>
<rect x="929" y="372" width="3" height="1" fill="#000"/>
<rect x="929" y="374" width="3" height="1" fill="#000"/>
<rect x="929" y="376" width="3" height="1" fill="#000"/>
<rect x="929" y="378" width="3" height="1" fill="#000"/>
<rect x="929" y="380" width="3" height="1" fill="#000"/>
<rect x="929" y="382" width="3" height="1" fill="#000"/>
<rect x="929" y="384" width="3" height="1" fill="#000"/>
<rect x="929" y="386" width="3" height="1" fill="#000"/>
<rect x="929" y="388" width="3" height="1" fill="#000"/>
<rect x="929" y="390" width="3" height="1" fill="#000"/>
<rect x="929" y="392" width="3" height="1" fill="#000"/>
<rect x="929" y="394" width="3" height="1" fill="#000"/>
<rect x="929" y="396" width="3" height="1" fill="#000"/>
<rect x="929" y="398" width="3" height="1" fill="#000"/>
<rect x="929" y="400" width="3" height="1" fill="#000"/>
<rect x="929" y="403" width="3" height="1" fill="#000"/>
<rect x="929" y="405" width="3" height="1" fill="#000"/>
<rect x="929" y="407" width="3" height="1" fill="#000"/>
<rect x="929" y="409" width="3" height="1" fill="#000"/>
<rect x="929" y="411" width="3" height="1" fill="#000"/>
<rect x="929" y="413" width="3" height="1" fill="#000"/>
<rect x="929" y="415" width="3" height="1" fill="#000"/>
<rect x="929" y="417" width="3" height="1" fill="#000"/>
<rect x="929" y="419" width="3" height="1" fill="#000"/>
<rect x="929" y="421" width="3" height="1" fill="#000"/>
<rect x="929" y="423" width="3" height="1" fill="#000"/>
<rect x="929" y="425" width="3" height="1" fill="#000"/>
<rect x="929" y="427" width="3" height="1" fill="#000"/>
<rect x="929" y="429" width="3" height="1" fill="#000"/>
<rect x="929" y="431" width="3" height="1" fill="#000"/>
<rect x="929" y="433" width="3" height="1" fill="#000"/>
<rect x="929" y="435" width="3" height="1" fill="#000"/>
<rect x="929" y="437" width="3" height="1" fill="#000"/>
<rect x="929" y="439" width="3" height="1" fill="#000"/>
<rect x="929" y="441" width="3" height="1" fill="#000"/>
<rect x="929" y="443" width="3" height="1" fill="#000"/>
<rect x="929" y="445" width="3" height="1" fill="#000"/>
<rect x="929" y="447" width="3" height="1" fill="#000"/>
<rect x="929" y="450" width="3" height="1" fill="#000"/>
<rect x="929" y="452" width="3" height="1" fill="#000"/>
<rect x="929" y="454" width="3" height="1" fill="#000"/>
<rect x="929" y="456" width="3" height="1" fill="#000"/>
<rect x="929" y="458" width="3" height="1" fill="#000"/>
<rect x="929" y="460" width="3" height="1" fill="#000"/>
<rect x="929" y="462" width="3" height="1" fill="#000"/>
<rect x="929" y="464" width="3" height="1" fill="#000"/>
<rect x="929" y="466" width="3" height="1" fill="#000"/>
<rect x="929" y="468" width="3" height="1" fill="#000"/>
<rect x="929" y="470" width="3" height="1" fill="#000"/>
<rect x="929" y="472" width="3" height="1" fill="#000"/>
<rect x="929" y="474" width="3" height="1" fill="#000"/>
<rect x="929" y="476" width="3" height="1" fill="#000"/>
<rect x="929" y="478" width="3" height="1" fill="#000"/>
<rect x="929" y="480" width="3" height="1" fill="#000"/>
<rect x="929" y="482" width="3" height="1" fill="#000"/>
<rect x="929" y="484" width="3" height="1" fill="#000"/>
<rect x="929" y="486" width="3" height="1" fill="#000"/>
<rect x="929" y="488" width="3" height="1" fill="#000"/>
<rect x="929" y="490" width="3" height="1" fill="#000"/>
<rect x="929" y="492" width="3" height="1" fill="#000"/>
<rect x="929" y="495" width="3" height="1" fill="#000"/>
<rect x="929" y="497" width="3" height="1" fill="#000"/>
<rect x="929" y="499" width="3" height="1" fill="#000"/>
<rect x="929" y="501" width="3" height="1" fill="#000"/>
<rect x="929" y="503" width="3" height="1" fill="#000"/>
<rect x="929" y="505" width="3" height="1" fill="#000"/>
<rect x="929" y="507" width="3" height="1" fill="#000"/>
<rect x="929" y="509" width="3" height="1" fill="#000"/>
<rect x="929" y="511" width="3" height="1" fill="#000"/>
<rect x="929" y="513" width="3" height="1" fill="#000"/>
<rect x="929" y="515" width="3" height="1" fill="#000"/>
<rect x="929" y="517" width="3" height="1" fill="#000"/>
<rect x="929" y="519" width="3" height="1" fill="#000"/>
<rect x="929" y="521" width="3" height="1" fill="#000"/>
<rect x="929" y="523" width="3" height="1" fill="#000"/>
<rect x="929" y="525" width="3" height="1" fill="#000"/>
<rect x="929" y="527" width="3" height="1" fill="#000"/>
<rect x="929" y="529" width="3" height="1" fill="#000"/>
<rect x="929" y="531" width="3" height="1" fill="#000"/>
<rect x="929" y="533" width="3" height="1" fill="#000"/>
<rect x="929" y="535" width="3" height="1" fill="#000"/>
<rect x="929" y="537" width="3" height="1" fill="#000"/>
<rect x="929" y="539" width="3" height="1" fill="#000"/>
<rect x="929" y="542" width="3" height="1" fill="#000"/>
<rect x="929" y="544" width="3" height="1" fill="#000"/>
<rect x="929" y="546" width="3" height="1" fill="#000"/>
<rect x="929" y="548" width="3" height="1" fill="#000"/>
<rect x="929" y="550" width="3" height="1" fill="#000"/>
<rect x="929" y="552" width="3" height="1" fill="#000"/>
<rect x="929" y="554" width="3" height="1" fill="#000"/>
<rect x="929" y="556" width="3" height="1" fill="#000"/>
<rect x="929" y="558" width="3" height="1" fill="#000"/>
<rect x="929" y="560" width="3" height="1" fill="#000"/>
<rect x="929" y="562" width="3" height="1" fill="#000"/>
<rect x="929" y="564" width="3" height="1" fill="#000"/>
<rect x="929" y="566" width="3" height="1" fill="#000"/>
<rect x="929" y="568" width="3" height="1" fill="#000"/>
<rect x="929" y="570" width="3" height="1" fill="#000"/>
<rect x="929" y="572" width="3" height="1" fill="#000"/>
<rect x="929" y="574" width="3" height="1" fill="#000"/>
<rect x="929" y="576" width="3" height="1" fill="#000"/>
<rect x="929" y="578" width="3" height="1" fill="#000"/>
<rect x="929" y="580" width="3" height="1" fill="#000"/>
<rect x="929" y="582" width="3" height="1" fill="#000"/>
<rect x="929" y="584" width="3" height="1" fill="#000"/>
<rect x="929" y="586" width="3" height="1" fill="#000"/>
<rect x="929" y="567" width="8" height="1" fill="#000"/>
<text x="951.4" y="574" class="t a">676</text>
<rect x="929" y="547" width="8" height="1" fill="#000"/>
<text x="951.4" y="554" class="t a">677</text>
<rect x="929" y="525" width="8" height="1" fill="#000"/>
<text x="951.4" y="532" class="t a">678</text>
<rect x="929" y="504" width="8" height="1" fill="#000"/>
<text x="951.4" y="511" class="t a">679</text>
<rect x="929" y="483" width="8" height="1" fill="#000"/>
<text x="951.4" y="490" class="t a">680</text>
<rect x="929" y="462" width="8" height="1" fill="#000"/>
<text x="951.4" y="469" class="t a">681</text>
<rect x="929" y="440" width="8" height="1" fill="#000"/>
<text x="951.4" y="447" class="t a">682</text>
<rect x="929" y="420" width="8" height="1" fill="#000"/>
<text x="951.4" y="427" class="t a">683</text>
<rect x="929" y="398" width="8" height="1" fill="#000"/>
<text x="951.4" y="405" class="t a">684</text>
<rect x="929" y="377" width="8" height="1" fill="#000"/>
<text x="951.4" y="384" class="t a">685</text>
<rect x="929" y="357" width="8" height="1" fill="#000"/>
<text x="951.4" y="364" class="t a">686</text>
<rect x="929" y="335" width="8" height="1" fill="#000"/>
<text x="951.4" y="342" class="t a">687</text>
<rect x="929" y="314" width="8" height="1" fill="#000"/>
<text x="951.4" y="321" class="t a">688</text>
<rect x="929" y="293" width="8" height="1" fill="#000"/>
<text x="951.4" y="300" class="t a">689</text>
<rect x="929" y="272" width="8" height="1" fill="#000"/>
<text x="951.4" y="279" class="t a">690</text>
<rect x="929" y="251" width="8" height="1" fill="#000"/>
<text x="951.4" y="258" class="t a">691</text>
<rect x="929" y="230" width="8" height="1" fill="#000"/>
<text x="951.4" y="237" class="t a">692</text>
<rect x="929" y="208" width="8" height="1" fill="#000"/>
<text x="951.4" y="215" class="t a">693</text>
<rect x="929" y="187" width="8" height="1" fill="#000"/>
<text x="951.4" y="194" class="t a">694</text>
<rect x="929" y="167" width="8" height="1" fill="#000"/>
<text x="951.4" y="174" class="t a">695</text>
<rect x="929" y="145" width="8" height="1" fill="#000"/>
<text x="951.4" y="152" class="t a">696</text>
<rect x="929" y="124" width="8" height="1" fill="#000"/>
<text x="951.4" y="131" class="t a">697</text>
<rect x="929" y="103" width="8" height="1" fill="#000"/>
<text x="951.4" y="110" class="t a">698</text>
<rect x="929" y="82" width="8" height="1" fill="#000"/>
<text x="951.4" y="89" class="t a">699</text>
<rect x="929" y="60" width="8" height="1" fill="#000"/>
<text x="951.4" y="67" class="t a">700</text>
<rect x="929" y="40" width="8" height="1" fill="#000"/>
<text x="951.4" y="47" class="t a">701</text>
<rect x="929" y="18" width="8" height="1" fill="#000"/>
<text x="951.4" y="25" class="t a">702</text>
<rect x="3" y="590" width="1" height="4" fill="#000"/>
<rect x="36" y="590" width="1" height="4" fill="#000"/>
<rect x="67" y="590" width="1" height="4" fill="#000"/>
<rect x="100" y="590" width="1" height="4" fill="#000"/>
<rect x="132" y="590" width="1" height="4" fill="#000"/>
<rect x="164" y="590" width="1" height="4" fill="#000"/>
<rect x="197" y="590" width="1" height="4" fill="#000"/>
<rect x="253" y="590" width="1" height="4" fill="#000"/>
<rect x="285" y="590" width="1" height="4" fill="#000"/>
<rect x="318" y="590" width="1" height="4" fill="#000"/>
<rect x="350" y="590" width="1" height="4" fill="#000"/>
<rect x="382" y="590" width="1" height="4" fill="#000"/>
<rect x="415" y="590" width="1" height="4" fill="#000"/>
<rect x="447" y="590" width="1" height="4" fill="#000"/>
<rect x="479" y="590" width="1" height="4" fill="#000"/>
<rect x="535" y="590" width="1" height="4" fill="#000"/>
<rect x="568" y="590" width="1" height="4" fill="#000"/>
<rect x="600" y="590" width="1" height="4" fill="#000"/>
<rect x="633" y="590" width="1" height="4" fill="#000"/>
<rect x="665" y="590" width="1" height="4" fill="#000"/>
<rect x="697" y="590" width="1" height="4" fill="#000"/>
<rect x="730" y="590" width="1" height="4" fill="#000"/>
<rect x="761" y="590" width="1" height="4" fill="#000"/>
<rect x="819" y="590" width="1" height="4" fill="#000"/>
<rect x="850" y="590" width="1" height="4" fill="#000"/>
<rect x="883" y="590" width="1" height="4" fill="#000"/>
<rect x="915" y="590" width="1" height="4" fill="#000"/>
<rect x="221" y="590" width="1" height="20" fill="#000"/>
<text x="223.4" y="608" class="t a">25</text>
<rect x="504" y="590" width="1" height="20" fill="#000"/>
<text x="506.4" y="608" class="t a">26</text>
<rect x="786" y="590" width="1" height="20" fill="#000"/>
<text x="788.4" y="608" class="t a">29</text>
<rect x="290.5" y="10.5" width="339" height="15" fill="#fff" stroke="#000" stroke-width="1"/>
<text x="292.3" y="22" class="t" style="letter-spacing:0.43px">AEX kwartiergrafiek maandag 29 mrt 2021 12.00u</text>
<text x="9.3" y="577.9" class="t" style="font-size:14.6px">©</text>
<text id="adn" x="29.3" y="575.7" class="t" style="letter-spacing:0.25px">ADN Beursanalyse</text>
<text x="468.3" y="311.7" class="t g">gap</text>
</svg>
</body></html>
